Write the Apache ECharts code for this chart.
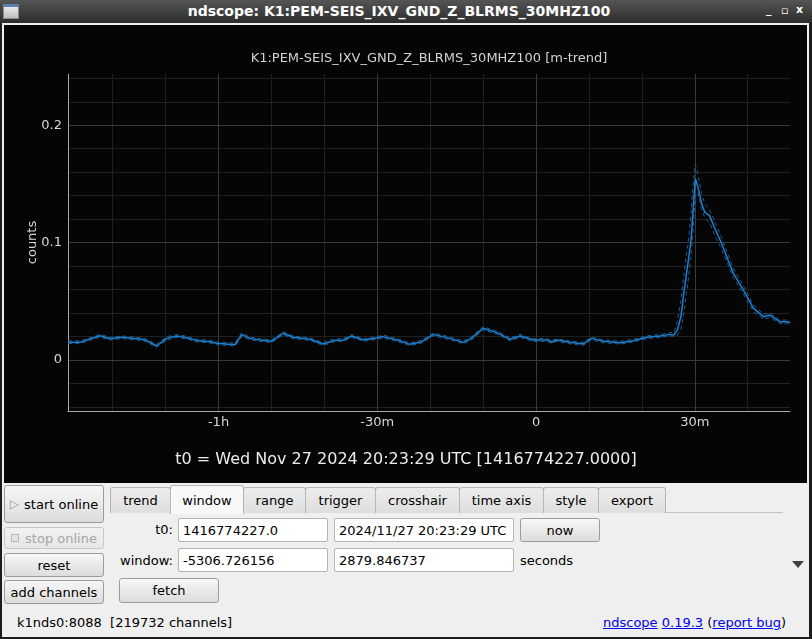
<!DOCTYPE html>
<html><head><meta charset="utf-8">
<script src="https://cdn.jsdelivr.net/npm/echarts@6/dist/echarts.min.js"></script>
<style>
*{box-sizing:border-box}
body{margin:0;width:812px;height:639px;overflow:hidden;background:#1c1c1c;font-family:"DejaVu Sans",sans-serif;font-size:13px;color:#000;position:relative}
.abs{position:absolute}
#titlebar{left:0;top:0;width:812px;height:23px;background:linear-gradient(#555,#2c2c2c);color:#fff;font-weight:bold;font-size:14px;text-align:center;line-height:22px;padding-right:14px}
#icon{left:3px;top:4px;width:16px;height:15px;background:linear-gradient(#e8e8e8,#bdbdbd);border:1px solid #8a8a8a;border-top:3px solid #5b7fb0}
.wc{top:3px;color:#fff;font-weight:bold;font-size:11px}
#client{left:2px;top:23px;width:807px;height:614px;background:#efefef}
#plot{left:4px;top:25px;width:803px;height:458px;background:#050505}
.btn{border:1px solid #9c9c9c;border-radius:3px;background:linear-gradient(#f7f7f7,#dcdcdc);display:flex;align-items:center;justify-content:center;white-space:nowrap}
.dis{border-color:#c6c6c6;background:linear-gradient(#f2f2f2,#e6e6e6);color:#a6a6a6}
.tab{top:487px;height:26px;border:1px solid #b6b6b6;border-bottom:none;border-radius:3px 3px 0 0;background:linear-gradient(#ececec,#dedede);display:flex;align-items:center;justify-content:center}
.tab.sel{top:485px;height:29px;background:#f8f8f8;z-index:2}
.inp{background:#fff;border:1px solid #b4b4b4;border-radius:2px;padding-left:4px;display:flex;align-items:center;white-space:nowrap;overflow:hidden}
.lbl{text-align:right;white-space:nowrap}
a{color:#0000ee}
</style></head>
<body>
<div id="titlebar" class="abs">ndscope: K1:PEM-SEIS_IXV_GND_Z_BLRMS_30MHZ100</div>
<div id="icon" class="abs"></div>
<div class="abs wc" style="left:766px">_</div>
<div class="abs wc" style="left:781px;top:4px">&#9643;</div>
<div class="abs wc" style="left:796px">x</div>
<div id="client" class="abs"></div>
<div id="plot" class="abs"></div>

<div class="abs btn" style="left:4px;top:485px;width:100px;height:38px"><span style="color:#999;margin-right:5px;font-size:12px">&#9655;</span>start online</div>
<div class="abs btn dis" style="left:4px;top:527px;width:100px;height:22px"><span style="display:inline-block;width:8px;height:8px;border:1px solid #b8b8b8;background:#e4e4e4;margin-right:6px"></span>stop online</div>
<div class="abs btn" style="left:4px;top:553px;width:100px;height:24px">reset</div>
<div class="abs btn" style="left:4px;top:580px;width:100px;height:24px">add channels</div>

<div class="abs" style="left:110px;top:512px;width:673px;height:1px;background:#c2c2c2"></div>
<div class="abs tab" style="left:110px;width:61px">trend</div>
<div class="abs tab sel" style="left:170px;width:74px">window</div>
<div class="abs tab" style="left:243px;width:63px">range</div>
<div class="abs tab" style="left:305px;width:71px">trigger</div>
<div class="abs tab" style="left:375px;width:85px">crosshair</div>
<div class="abs tab" style="left:459px;width:85px">time axis</div>
<div class="abs tab" style="left:543px;width:56px">style</div>
<div class="abs tab" style="left:598px;width:68px">export</div>

<div class="abs lbl" style="left:100px;top:522px;width:73px">t0:</div>
<div class="abs inp" style="left:178px;top:518px;width:150px;height:24px">1416774227.0</div>
<div class="abs inp" style="left:334px;top:518px;width:180px;height:24px">2024/11/27 20:23:29 UTC</div>
<div class="abs btn" style="left:520px;top:518px;width:80px;height:24px">now</div>
<div class="abs lbl" style="left:100px;top:553px;width:73px">window:</div>
<div class="abs inp" style="left:178px;top:548px;width:150px;height:24px">-5306.726156</div>
<div class="abs inp" style="left:334px;top:548px;width:180px;height:24px">2879.846737</div>
<div class="abs" style="left:520px;top:553px">seconds</div>
<div class="abs" style="left:792px;top:561px;width:0;height:0;border-left:6px solid transparent;border-right:6px solid transparent;border-top:7px solid #404040"></div>
<div class="abs btn" style="left:119px;top:578px;width:100px;height:25px">fetch</div>

<div class="abs" style="left:17px;top:615px;white-space:pre">k1nds0:8088  [219732 channels]</div>
<div class="abs" style="left:603px;top:615px;white-space:nowrap"><a href="#">ndscope</a> <a href="#">0.19.3</a> (<a href="#">report bug</a>)</div>

<script>
// time offsets from t0 in minutes
const tMinutes = [-88.4,-86.2,-82.4,-80.5,-78.3,-74.5,-73.6,-71.7,-69.8,-67.9,-66.0,-64.1,-61.6,-60.4,-56.9,-55.6,-54.1,-52.2,-50.0,-47.8,-45.9,-42.7,-40.2,-38.3,-36.4,-34.8,-32.6,-30.1,-28.9,-26.3,-23.8,-21.6,-19.4,-16.3,-13.7,-12.2,-10.0,-7.4,-4.9,-3.0,-0.5,2.0,3.0,3.9,6.4,8.9,10.5,12.7,15.9,18.4,20.9,23.4,25.3,26.1,26.7,27.4,28.0,28.7,29.3,29.6,30.1,30.6,31.3,31.9,32.8,33.8,35.1,36.3,37.3,39.2,41.1,43.0,44.2,46.1,47.4,48.0];
const meanV = [.0151,.0150,.0207,.0180,.0193,.0176,.0165,.0119,.0184,.0204,.0190,.0165,.0156,.0142,.0130,.0216,.0184,.0170,.0159,.0227,.0193,.0176,.0136,.0165,.0170,.0204,.0170,.0187,.0199,.0170,.0133,.0156,.0218,.0184,.0150,.0184,.0270,.0233,.0176,.0204,.0170,.0170,.0153,.0170,.0150,.0136,.0184,.0159,.0147,.0164,.0193,.0204,.0218,.0213,.0255,.0370,.0596,.0820,.1020,.1220,.1546,.1475,.1330,.1260,.1230,.1120,.0990,.0850,.0738,.0596,.0440,.0369,.0383,.0326,.0326,.0318];
const maxV = [.0163,.0162,.0219,.0193,.0205,.0188,.0178,.0133,.0198,.0216,.0203,.0177,.0168,.0154,.0143,.0232,.0196,.0182,.0171,.0240,.0205,.0188,.0149,.0178,.0183,.0216,.0182,.0199,.0212,.0183,.0146,.0169,.0231,.0196,.0163,.0198,.0284,.0246,.0188,.0217,.0182,.0183,.0166,.0182,.0162,.0149,.0197,.0171,.0159,.0177,.0206,.0217,.0232,.0235,.0330,.0520,.0750,.0980,.1250,.1450,.1668,.1580,.1420,.1330,.1280,.1180,.1040,.0900,.0780,.0630,.0470,.0390,.0400,.0340,.0340,.0330];
const minV = [.0141,.0139,.0195,.0170,.0182,.0165,.0152,.0108,.0170,.0192,.0178,.0153,.0145,.0130,.0118,.0200,.0172,.0159,.0147,.0214,.0181,.0165,.0124,.0153,.0158,.0192,.0158,.0175,.0187,.0158,.0121,.0144,.0205,.0172,.0138,.0170,.0257,.0220,.0164,.0191,.0158,.0158,.0141,.0158,.0138,.0124,.0171,.0147,.0135,.0152,.0181,.0192,.0206,.0200,.0210,.0260,.0420,.0660,.0880,.1040,.1400,.1430,.1280,.1210,.1170,.1060,.0940,.0810,.0700,.0560,.0410,.0350,.0360,.0310,.0310,.0300];

const xRange = [-5306.726156, 2879.846737];   // seconds
const yRange = [-0.0435, 0.2437];
const xMajorTicks = [-3600, -1800, 0, 1800];
const xTickLabels = ['-1h', '-30m', '0', '30m'];
const xMinorTicks = [-4800, -4200, -3000, -2400, -1200, -600, 600, 1200, 2400];
const yMajorTicks = [0, 0.1, 0.2];
const yTickLabels = ['0', '0.1', '0.2'];
const yMinorTicks = [-0.04, -0.02, 0.02, 0.04, 0.06, 0.08, 0.12, 0.14, 0.16, 0.18, 0.22, 0.24];
const plotTitle = 'K1:PEM-SEIS_IXV_GND_Z_BLRMS_30MHZ100 [m-trend]';
const t0Text = 't0 = Wed Nov 27 2024 20:23:29 UTC [1416774227.0000]';
const yName = 'counts';

const toPts = arr => tMinutes.map((m, i) => [m * 60, arr[i]]);
const FONT = '"DejaVu Sans", sans-serif';

const chart = echarts.init(document.getElementById('plot'), null, {renderer: 'canvas'});
chart.setOption({
  animation: false,
  backgroundColor: '#050505',
  grid: {left: 64, right: 17, top: 49, bottom: 72},
  graphic: [
    {type: 'text', x: 425, y: 34, style: {text: plotTitle, fill: '#d2d2d2', font: '13px ' + FONT, textAlign: 'center', textVerticalAlign: 'middle'}},
    {type: 'text', x: 402, y: 435, style: {text: t0Text, fill: '#ececec', font: '16px ' + FONT, textAlign: 'center', textVerticalAlign: 'middle'}}
  ],
  xAxis: [
    {type: 'value', min: xRange[0], max: xRange[1], z: 1,
     axisLine: {show: true, onZero: false, lineStyle: {color: '#a8a8a8', width: 1}},
     axisTick: {show: false, customValues: xMajorTicks},
     axisLabel: {customValues: xMajorTicks, margin: 5, color: '#d8d8d8', fontSize: 13, fontFamily: FONT,
                 formatter: v => xTickLabels[xMajorTicks.indexOf(v)]},
     splitLine: {show: true, lineStyle: {color: '#3a3a3a', width: 1}}},
    {type: 'value', min: xRange[0], max: xRange[1], position: 'bottom', z: 0,
     axisLine: {show: false}, axisLabel: {show: false},
     axisTick: {show: false, customValues: xMinorTicks},
     splitLine: {show: true, lineStyle: {color: '#202020', width: 1}}}
  ],
  yAxis: [
    {type: 'value', min: yRange[0], max: yRange[1], z: 1,
     name: yName, nameLocation: 'middle', nameGap: 29, nameMoveOverlap: false,
     nameTextStyle: {color: '#d8d8d8', fontSize: 13, fontFamily: FONT},
     axisLine: {show: true, onZero: false, lineStyle: {color: '#a8a8a8', width: 1}},
     axisTick: {show: false, customValues: yMajorTicks},
     axisLabel: {customValues: yMajorTicks, margin: 6, color: '#d8d8d8', fontSize: 13, fontFamily: FONT,
                 formatter: v => yTickLabels[yMajorTicks.indexOf(v)]},
     splitLine: {show: true, lineStyle: {color: '#3a3a3a', width: 1}}},
    {type: 'value', min: yRange[0], max: yRange[1], position: 'left', z: 0,
     axisLine: {show: false}, axisLabel: {show: false},
     axisTick: {show: false, customValues: yMinorTicks},
     splitLine: {show: true, lineStyle: {color: '#202020', width: 1}}}
  ],
  series: [
    {type: 'line', data: toPts(maxV), showSymbol: false, z: 3,
     lineStyle: {color: '#1b5d93', width: 1, type: [4, 3]}},
    {type: 'line', data: toPts(minV), showSymbol: false, z: 3,
     lineStyle: {color: '#1b5d93', width: 1, type: [4, 3]}},
    {type: 'line', data: toPts(meanV), showSymbol: false, z: 4,
     lineStyle: {color: '#1f80d0', width: 1.5}}
  ]
});
</script>
</body></html>
